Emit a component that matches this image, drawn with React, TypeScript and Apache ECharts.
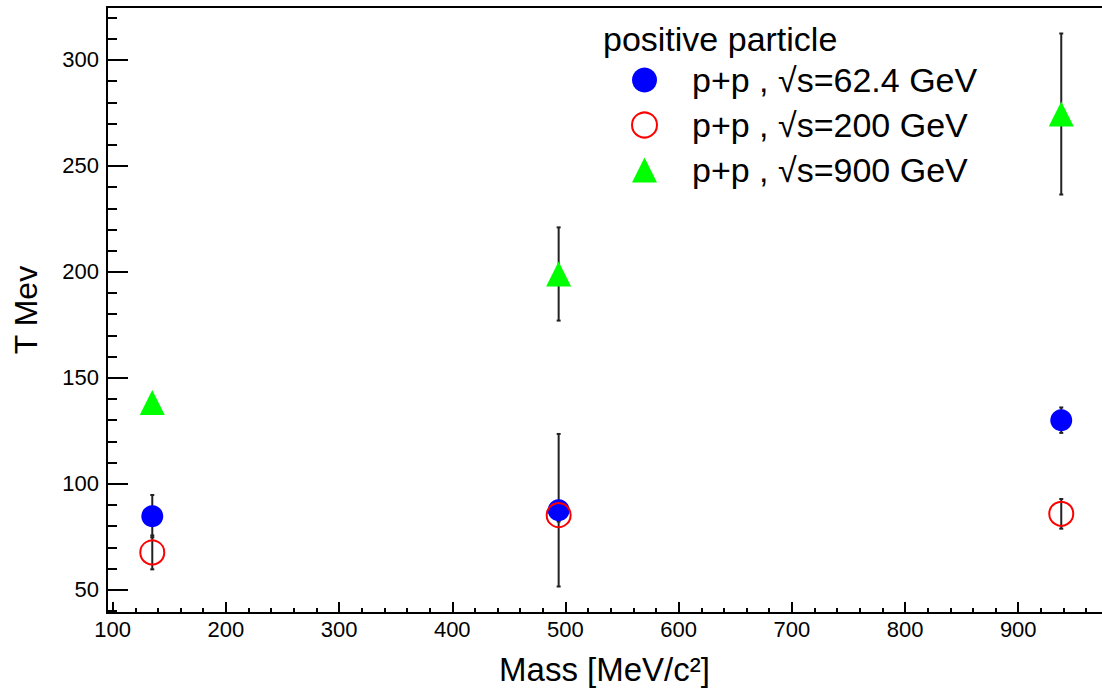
import React, { useEffect, useRef } from "react";
import * as echarts from "echarts";

// Particle masses (MeV/c^2): pion, kaon, proton
const masses = [135, 494, 938];

// Temperatures T (MeV) and their errors, per collision energy
const t62 = [84.7, 87.5, 130];
const err62 = [10, 36, 6];
const t200 = [67.6, 85.2, 85.8];
const err200 = [8, 3, 7];
const t900 = [138.3, 199, 274.5];
const err900 = [3, 22, 38];

const seriesNames = [
  "p+p , √s=62.4 GeV",
  "p+p , √s=200 GeV",
  "p+p , √s=900 GeV",
];
const legendTitle = "positive particle";
const xTitle = "Mass [MeV/c²]";
const yTitle = "T Mev";

const xMajor = [100, 200, 300, 400, 500, 600, 700, 800, 900];
const yMajor = [50, 100, 150, 200, 250, 300];
const xMinor: number[] = [];
for (let v = 100; v <= 960; v += 20) xMinor.push(v);
const yMinor: number[] = [];
for (let v = 40; v <= 320; v += 10) yMinor.push(v);

const FONT = "Liberation Sans, Arial, Helvetica, sans-serif";

export default function App() {
  const ref = useRef<HTMLDivElement>(null);
  useEffect(() => {
    if (!ref.current) return;
    const chart = echarts.init(ref.current, undefined, { renderer: "svg" });

    const toPts = (ys: number[]) => masses.map((m, i) => [m, ys[i]]);
    const errData: number[][] = [];
    [
      [t62, err62],
      [t200, err200],
      [t900, err900],
    ].forEach(([ys, es]) => {
      masses.forEach((m, i) => errData.push([m, ys[i], es[i]]));
    });

    const xMin = 95;
    const xMax = 974;
    const yMin = 39;
    const yMax = 325;

    chart.setOption({
      animation: false,
      backgroundColor: "#fff",
      title: {
        text: legendTitle,
        left: 603,
        top: 22,
        padding: 0,
        textStyle: { fontFamily: FONT, fontSize: 34, fontWeight: "normal", color: "#000" },
      },
      legend: {
        orient: "vertical",
        left: 631,
        top: 63,
        padding: 0,
        itemWidth: 25,
        itemHeight: 25,
        itemGap: 11,
        selectedMode: false,
        textStyle: {
          fontFamily: FONT,
          fontSize: 34,
          color: "#000",
          padding: [0, 0, 0, 30],
        },
        data: [
          { name: seriesNames[0], icon: "circle", itemStyle: { color: "#0000ff" } },
          {
            name: seriesNames[1],
            icon: "circle",
            itemStyle: { color: "rgba(0,0,0,0)", borderColor: "#ff0000", borderWidth: 2 },
          },
          { name: seriesNames[2], icon: "triangle", itemStyle: { color: "#00ff00" } },
        ],
      },
      grid: { left: 107, top: 7, right: 0, bottom: 79, containLabel: false },
      xAxis: [
        {
          type: "value",
          min: xMin,
          max: xMax,
          position: "bottom",
          name: xTitle,
          nameLocation: "middle",
          nameGap: 40,
          nameTextStyle: { fontFamily: FONT, fontSize: 33, color: "#000" },
          axisLine: { show: true, lineStyle: { color: "#000", width: 2 } },
          axisTick: {
            show: true,
            inside: true,
            length: 11,
            customValues: xMajor,
            lineStyle: { color: "#000", width: 2 },
          },
          axisLabel: {
            customValues: xMajor,
            fontFamily: FONT,
            fontSize: 22,
            color: "#000",
            margin: 5,
          },
          splitLine: { show: false },
        },
        {
          type: "value",
          min: xMin,
          max: xMax,
          position: "bottom",
          axisLine: { show: false },
          axisTick: {
            show: true,
            inside: true,
            length: 5,
            customValues: xMinor,
            lineStyle: { color: "#000", width: 2 },
          },
          axisLabel: { show: false },
          splitLine: { show: false },
        },
        {
          type: "value",
          min: xMin,
          max: xMax,
          position: "top",
          axisLine: { show: true, lineStyle: { color: "#000", width: 2 } },
          axisTick: { show: false },
          axisLabel: { show: false },
          splitLine: { show: false },
        },
      ],
      yAxis: [
        {
          type: "value",
          min: yMin,
          max: yMax,
          position: "left",
          name: yTitle,
          nameLocation: "middle",
          nameGap: 65,
          nameTextStyle: { fontFamily: FONT, fontSize: 32, color: "#000" },
          axisLine: { show: true, lineStyle: { color: "#000", width: 2 } },
          axisTick: {
            show: true,
            inside: true,
            length: 21,
            customValues: yMajor,
            lineStyle: { color: "#000", width: 2 },
          },
          axisLabel: {
            customValues: yMajor,
            fontFamily: FONT,
            fontSize: 22,
            color: "#000",
            margin: 8,
          },
          splitLine: { show: false },
        },
        {
          type: "value",
          min: yMin,
          max: yMax,
          position: "left",
          axisLine: { show: false },
          axisTick: {
            show: true,
            inside: true,
            length: 10,
            customValues: yMinor,
            lineStyle: { color: "#000", width: 2 },
          },
          axisLabel: { show: false },
          splitLine: { show: false },
        },
      ],
      series: [
        {
          type: "custom",
          name: "errors",
          xAxisIndex: 0,
          yAxisIndex: 0,
          z: 1,
          data: errData,
          encode: { x: 0, y: 1 },
          renderItem: (params: any, api: any) => {
            const x = api.value(0);
            const y = api.value(1);
            const e = api.value(2);
            const top = api.coord([x, y + e]);
            const bot = api.coord([x, y - e]);
            const st = { stroke: "#222", lineWidth: 2 };
            return {
              type: "group",
              children: [
                { type: "line", shape: { x1: top[0], y1: top[1], x2: bot[0], y2: bot[1] }, style: st },
                { type: "line", shape: { x1: top[0] - 2, y1: top[1], x2: top[0] + 2, y2: top[1] }, style: st },
                { type: "line", shape: { x1: bot[0] - 2, y1: bot[1], x2: bot[0] + 2, y2: bot[1] }, style: st },
              ],
            };
          },
        },
        {
          type: "scatter",
          name: seriesNames[0],
          z: 3,
          symbol: "circle",
          symbolSize: 22,
          itemStyle: { color: "#0000ff", opacity: 1 },
          data: toPts(t62),
        },
        {
          type: "scatter",
          name: seriesNames[1],
          z: 4,
          symbol: "circle",
          symbolSize: 24,
          itemStyle: { color: "rgba(0,0,0,0)", borderColor: "#ff0000", borderWidth: 2, opacity: 1 },
          data: toPts(t200),
        },
        {
          type: "scatter",
          name: seriesNames[2],
          z: 3,
          symbol: "triangle",
          symbolSize: [25, 25],
          itemStyle: { color: "#00ff00", opacity: 1 },
          data: toPts(t900),
        },
      ],
    });
    return () => chart.dispose();
  }, []);

  return (
    <div
      ref={ref}
      style={{ position: "fixed", left: 0, top: 0, width: 1102, height: 692, background: "#fff" }}
    />
  );
}
